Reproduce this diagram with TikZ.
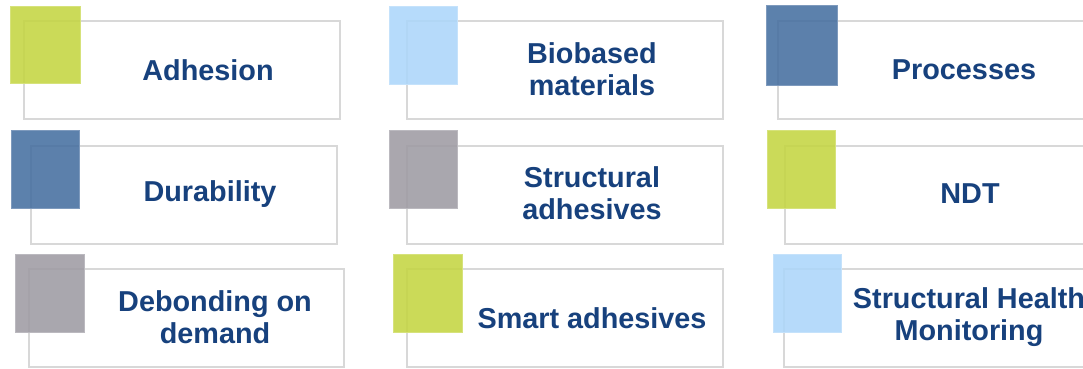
\documentclass[tikz,border=0pt]{standalone}
\usepackage{fontspec}
\setmainfont{Liberation Sans}
\definecolor{txtblue}{RGB}{23,65,125}
\definecolor{framegray}{RGB}{216,216,216}
\definecolor{tgreen}{RGB}{196,213,66}
\definecolor{tlblue}{RGB}{172,214,250}
\definecolor{tsteel}{RGB}{70,111,160}
\definecolor{tgray}{RGB}{158,155,163}
\begin{document}
\begin{tikzpicture}[x=1pt,y=-1pt,
  frame/.style={draw=framegray,line width=1.6pt,fill=white,anchor=north west,
    inner sep=0pt,minimum width=316pt,minimum height=98pt},
  tile/.style={fill=#1,fill opacity=0.88,draw=#1!70!white,line width=1.2pt,
    anchor=north west,inner sep=0pt,minimum width=68pt,minimum height=78pt},
  label/.style={text=txtblue,font=\fontsize{28.8}{32}\selectfont\bfseries,
    align=center,inner sep=0pt}]
\useasboundingbox (0,0) rectangle (1083,369);
\clip (0,0) rectangle (1083,369);

% outline frames
\node[frame] (f11) at (23,20) {};
\node[frame] (f12) at (406,20) {};
\node[frame] (f13) at (777,20) {};
\node[frame,minimum width=306pt] (f21) at (30,145) {};
\node[frame] (f22) at (406,145) {};
\node[frame] (f23) at (784,145) {};
\node[frame,minimum width=315pt] (f31) at (28,268) {};
\node[frame] (f32) at (406,268) {};
\node[frame] (f33) at (783,268) {};

% coloured squares overlapping the frames
\node[tile=tgreen,minimum width=70pt,minimum height=77pt] (s11) at (10,6) {};
\node[tile=tlblue] (s12) at (389,6) {};
\node[tile=tsteel,minimum width=71pt,minimum height=80pt] (s13) at (766,5) {};
\node[tile=tsteel] (s21) at (11,130) {};
\node[tile=tgray] (s22) at (389,130) {};
\node[tile=tgreen] (s23) at (767,130) {};
\node[tile=tgray,minimum width=69pt] (s31) at (15,254) {};
\node[tile=tgreen,minimum width=69pt] (s32) at (393,254) {};
\node[tile=tlblue] (s33) at (773,254) {};

% labels
\node[label] (t11) at (208,70) {Adhesion};
\node[label] (t12) at (592,69) {Biobased\\materials};
\node[label] (t13) at (964,70) {Processes};
\node[label] (t21) at (210,194) {Durability};
\node[label] (t22) at (592,193) {Structural\\adhesives};
\node[label] (t23) at (970,194) {NDT};
\node[label] (t31) at (215,317) {Debonding on\\demand};
\node[label] (t32) at (592,318) {Smart adhesives};
\node[label] (t33) at (969,317) {Structural Health\\Monitoring};
\end{tikzpicture}
\end{document}
